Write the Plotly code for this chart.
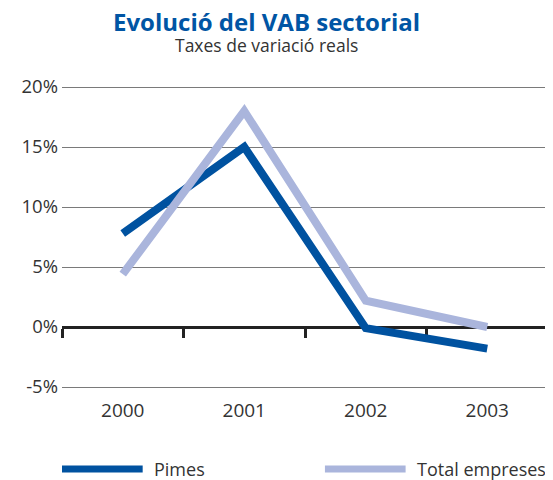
import plotly.graph_objects as go

years = ['2000', '2001', '2002', '2003']
pimes = [7.8, 15.0, -0.1, -1.8]
total_empreses = [4.4, 18.0, 2.2, 0.0]

y_ticks = [-5, 0, 5, 10, 15, 20]
y_ticktext = ['-5%', '0%', '5%', '10%', '15%', '20%']

series_names = ['Pimes', 'Total empreses']
series_colors = ['#0052a0', '#aab5dc']

FONT = 'Open Sans'
TXT = '#333333'

# page body has an 8px margin, so everything is laid out 8px up/left;
# range padded by 2px each side so plotly keeps the end grid lines
PLOT_H = 304
y_range = [-5 - 2 / 12, 20 + 2 / 12]

fig = go.Figure()

# Pimes on the main subplot (its x axis is the zero line with boundary ticks)
fig.add_trace(go.Scatter(
    x=years, y=pimes, mode='lines', name=series_names[0],
    line=dict(color=series_colors[0], width=8),
    xaxis='x', yaxis='y', showlegend=False
))

# Total empreses on the overlaying axis, so it is drawn on top
fig.add_trace(go.Scatter(
    x=years, y=total_empreses, mode='lines', name=series_names[1],
    line=dict(color=series_colors[1], width=8),
    xaxis='x2', yaxis='y', showlegend=False
))

# hand-made legend with long line samples
legend_x = [0.0, 0.541]
legend_y = -80 / PLOT_H
shapes = []
annotations = []
for i, (name, col) in enumerate(zip(series_names, series_colors)):
    x0 = legend_x[i]
    shapes.append(dict(type='line', xref='paper', yref='paper',
                       x0=x0, x1=x0 + 0.166, y0=legend_y, y1=legend_y,
                       line=dict(color=col, width=7)))
    annotations.append(dict(xref='paper', yref='paper', x=x0 + 0.19, y=legend_y,
                            text=name, showarrow=False, xanchor='left', yanchor='middle',
                            xshift=-2, font=dict(family=FONT, size=18, color=TXT)))

# title and subtitle
annotations.append(dict(xref='paper', yref='paper', x=(266 - 62) / 486, y=1 + 64 / PLOT_H,
                        text='<b>Evolució del VAB sectorial</b>', showarrow=False,
                        xanchor='center', yanchor='middle',
                        font=dict(family=FONT, size=24, color='#0055a4')))
annotations.append(dict(xref='paper', yref='paper', x=(266 - 62) / 486, y=1 + 40 / PLOT_H,
                        text='Taxes de variació reals', showarrow=False,
                        xanchor='center', yanchor='middle',
                        font=dict(family=FONT, size=17.5, color=TXT)))

zero_pos = (0 - y_range[0]) / (y_range[1] - y_range[0])

fig.update_layout(
    width=553,
    height=480,
    margin=dict(l=54, r=13, t=77, b=99),
    paper_bgcolor='white',
    plot_bgcolor='white',
    xaxis=dict(
        type='category', range=[-0.5, 3.5],
        anchor='free', position=zero_pos,
        showline=True, linecolor='#222222', linewidth=3,
        ticks='outside', tickson='boundaries', ticklen=9, tickwidth=3, tickcolor='#222222',
        showticklabels=False, showgrid=False, zeroline=False,
        layer='below traces', automargin=False
    ),
    xaxis2=dict(
        type='category', range=[-0.5, 3.5],
        overlaying='x', anchor='y', side='bottom',
        showline=False, showgrid=False, zeroline=False, ticks='',
        ticklabelstandoff=8, automargin=False,
        tickfont=dict(family=FONT, size=19, color=TXT)
    ),
    yaxis=dict(
        range=y_range,
        tickvals=y_ticks, ticktext=y_ticktext,
        showgrid=True, gridcolor='#7a7a7a', gridwidth=1,
        zeroline=False, showline=False, ticks='',
        ticklabelstandoff=3, automargin=False,
        tickfont=dict(family=FONT, size=18.5, color=TXT),
        layer='below traces'
    ),
    shapes=shapes,
    annotations=annotations,
    showlegend=False
)

fig.write_html('out.html')
